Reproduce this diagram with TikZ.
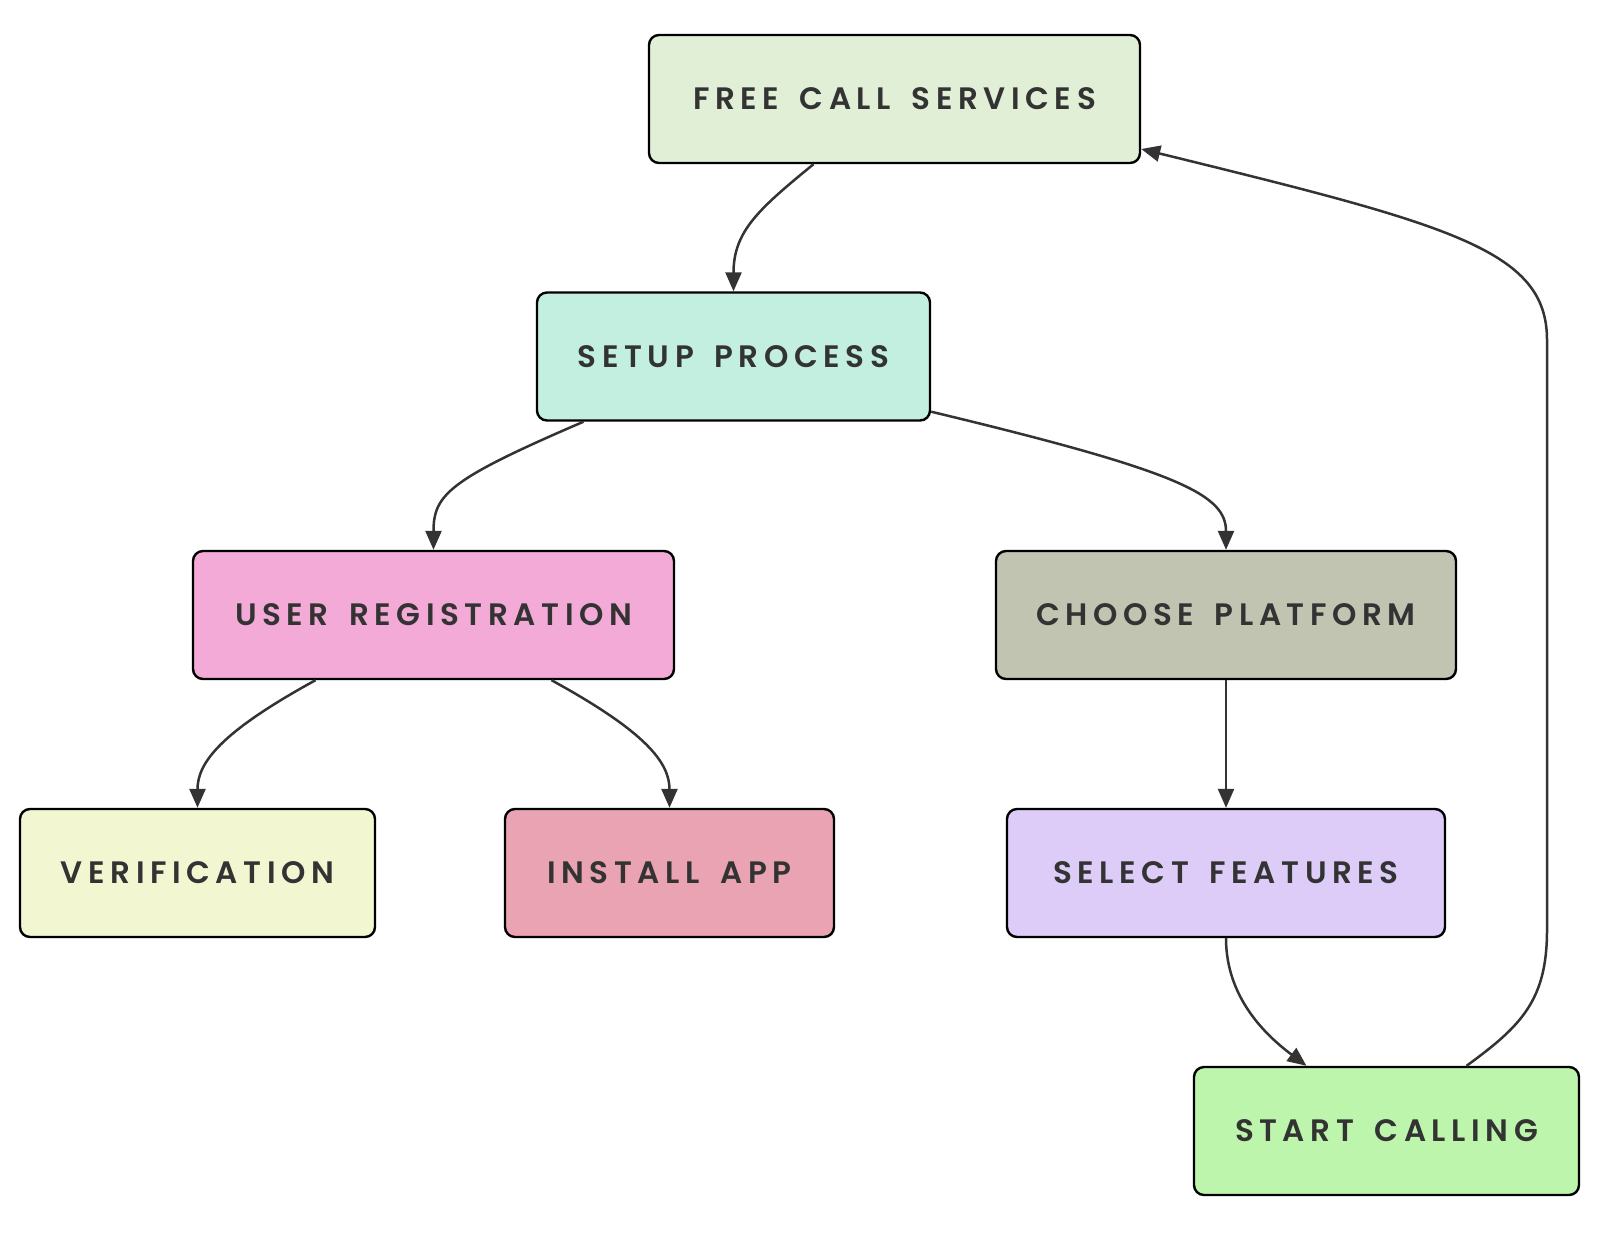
\documentclass[tikz,border=0pt]{standalone}
\usepackage{fontspec}
\setmainfont{Poppins}[UprightFont={* SemiBold}, LetterSpace=18, WordSpace=1.6]
\usetikzlibrary{arrows.meta,calc}
\definecolor{txt}{HTML}{333333}
\definecolor{edge}{HTML}{333333}
\definecolor{cFree}{HTML}{E1EFD6}
\definecolor{cSetup}{HTML}{C3EFE0}
\definecolor{cUser}{HTML}{F4AAD7}
\definecolor{cChoose}{HTML}{C1C4B1}
\definecolor{cVerif}{HTML}{F2F7D2}
\definecolor{cInstall}{HTML}{E9A3B2}
\definecolor{cSelect}{HTML}{DCCCF7}
\definecolor{cStart}{HTML}{BDF5AC}
\tikzset{
  box/.style={draw=black, line width=2.4pt, rounded corners=10pt, minimum height=128pt,
    text=txt, font=\fontsize{31}{37}\selectfont, inner sep=0pt, anchor=center},
  conn/.style={draw=edge, line width=2.5pt, -{Triangle[length=19pt,width=16pt]}},
}
\begin{document}
\begin{tikzpicture}[x=1pt,y=-1pt]
\useasboundingbox (0,0) rectangle (1600,1232);
\node[box, fill=cFree, minimum width=491pt] (free) at (894.5,99) {FREE CALL SERVICES};
\node[box, fill=cSetup, minimum width=393pt] (setup) at (733.5,356.5) {SETUP PROCESS};
\node[box, fill=cUser, minimum width=481pt] (user) at (433.5,615) {USER REGISTRATION};
\node[box, fill=cChoose, minimum width=460pt] (choose) at (1226,615) {CHOOSE PLATFORM};
\node[box, fill=cVerif, minimum width=355pt] (verif) at (197.5,873) {VERIFICATION};
\node[box, fill=cInstall, minimum width=329pt] (install) at (669.5,873) {INSTALL APP};
\node[box, fill=cSelect, minimum width=438pt] (select) at (1226,873) {SELECT FEATURES};
\node[box, fill=cStart, minimum width=385pt] (start) at (1386.5,1131) {START CALLING};

\path[conn] ([xshift=-81pt]free.south) .. controls +(-55,45) and +(0,-60) .. (setup.north);
\path[conn] ([xshift=-150pt]setup.south) .. controls +(-135,58) and +(0,-55) .. (user.north);
\path[conn] ([yshift=10pt]setup.south east) .. controls +(250,60) and +(0,-55) .. (choose.north);
\path[conn] ([xshift=-118pt]user.south) .. controls +(-95,52) and +(0,-45) .. (verif.north);
\path[conn] ([xshift=118pt]user.south) .. controls +(95,52) and +(0,-45) .. (install.north);
\path[conn] (choose.south) -- (select.north);
\path[conn] (select.south) .. controls +(0,60) and +(-40,-30) .. ([xshift=-80pt]start.north);
\path[conn] ([xshift=80pt]start.north) .. controls +(55,-40) and +(0,70) .. (1547,930) -- (1547,340) .. controls +(0,-90) and +(310,76) .. ([yshift=-50pt]free.east);
\end{tikzpicture}
\end{document}
